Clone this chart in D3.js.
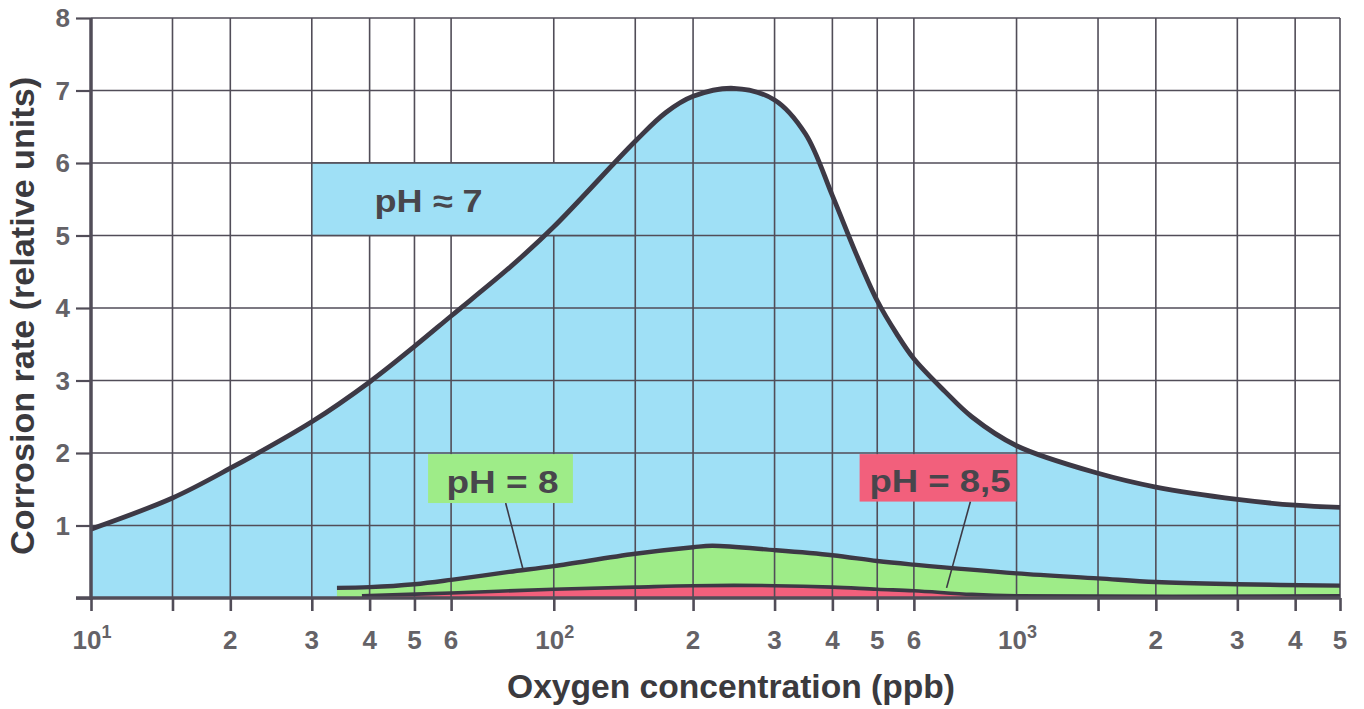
<!DOCTYPE html>
<html>
<head>
<meta charset="utf-8">
<script src="https://cdn.jsdelivr.net/npm/d3@7/dist/d3.min.js"></script>
<style>
  html, body { margin: 0; padding: 0; background: #ffffff; }
  svg { display: block; }
  text { font-family: "Liberation Sans", Arial, Helvetica, sans-serif; font-weight: bold; }
</style>
</head>
<body>
<svg id="chart" width="1364" height="709"></svg>
<script>
// ---------------- data ----------------
const xGridValues = [10, 15, 20, 30, 40, 50, 60, 100, 150, 200, 300, 400, 500, 600, 1000, 1500, 2000, 3000, 4000, 5000];
const xLabelValues = [10, 20, 30, 40, 50, 60, 100, 200, 300, 400, 500, 600, 1000, 2000, 3000, 4000, 5000];
const xLabelBase  = ["10", "2", "3", "4", "5", "6", "10", "2", "3", "4", "5", "6", "10", "2", "3", "4", "5"];
const xLabelSup   = ["1", "", "", "", "", "", "2", "", "", "", "", "", "3", "", "", "", ""];
const yTickValues = [0, 1, 2, 3, 4, 5, 6, 7, 8];
const yLabelValues = [1, 2, 3, 4, 5, 6, 7, 8];

// pH ~ 7 (blue)
const oxygenPH7 = [10, 15, 20, 30, 40, 50, 60, 80, 100, 150, 175, 200, 245, 300, 350, 400, 450, 500, 550, 600, 700, 800, 1000, 1500, 2000, 3000, 4000, 5000];
const ratePH7   = [0.95, 1.38, 1.79, 2.43, 2.98, 3.47, 3.89, 4.55, 5.12, 6.3, 6.7, 6.92, 7.03, 6.87, 6.4, 5.55, 4.75, 4.1, 3.65, 3.3, 2.85, 2.5, 2.1, 1.72, 1.53, 1.36, 1.28, 1.25];

// pH = 8 (green)
const oxygenPH8 = [34, 40, 50, 60, 80, 100, 150, 200, 220, 300, 400, 500, 600, 1000, 1500, 2000, 3000, 5000];
const ratePH8   = [0.14, 0.15, 0.19, 0.25, 0.36, 0.44, 0.61, 0.70, 0.72, 0.66, 0.59, 0.51, 0.46, 0.34, 0.27, 0.22, 0.19, 0.17];

// pH = 8,5 (red)
const oxygenPH85 = [38.5, 60, 100, 150, 200, 300, 400, 500, 600, 800, 1000, 5000];
const ratePH85   = [0.03, 0.07, 0.12, 0.15, 0.17, 0.17, 0.15, 0.12, 0.10, 0.05, 0.03, 0.03];

// labels
const seriesLabels = ["pH \u2248 7", "pH = 8", "pH = 8,5"];
const xTitle = "Oxygen concentration (ppb)";
const yTitle = "Corrosion rate (relative units)";

// ---------------- layout ----------------
const svg = d3.select("#chart");
const x = d3.scaleLog().domain([10, 5000]).range([91, 1340]);
const y = d3.scaleLinear().domain([0, 8]).range([598, 18]);

const C = {
  blue: "#9fe0f6",
  green: "#9eec88",
  red: "#f2607c",
  curve: "#3d3945",
  grid: "#514d58",
  tick: "#646267",
  title: "#3b3a3e",
  boxText: "#48464c"
};

const toPts = (xs, ys) => xs.map((v, i) => [v, ys[i]]);
const pts7 = toPts(oxygenPH7, ratePH7);
const pts8 = toPts(oxygenPH8, ratePH8);
const pts85 = toPts(oxygenPH85, ratePH85);

const curve = d3.curveCatmullRom.alpha(0.5);
const area = d3.area().x(d => x(d[0])).y0(y(0)).y1(d => y(d[1])).curve(curve);
const line = d3.line().x(d => x(d[0])).y(d => y(d[1])).curve(curve);

// fills
svg.append("path").attr("d", area(pts7)).attr("fill", C.blue);
svg.append("path").attr("d", area(pts8)).attr("fill", C.green);
svg.append("path").attr("d", area(pts85)).attr("fill", C.red);

// grid
const grid = svg.append("g").attr("stroke", C.grid).attr("stroke-width", 1.6);
grid.selectAll("line.v").data(xGridValues).join("line")
  .attr("x1", d => x(d)).attr("x2", d => x(d))
  .attr("y1", y(8)).attr("y2", y(0));
grid.selectAll("line.h").data(yTickValues.filter(v => v > 0)).join("line")
  .attr("x1", x(10)).attr("x2", x(5000))
  .attr("y1", d => y(d)).attr("y2", d => y(d));

// pH ~ 7 box (covers grid inside)
const box7 = { x0: 30, x1: 150, y0: 5, y1: 6 };
svg.append("rect")
  .attr("x", x(box7.x0)).attr("y", y(box7.y1))
  .attr("width", x(box7.x1) - x(box7.x0)).attr("height", y(box7.y0) - y(box7.y1))
  .attr("fill", C.blue).attr("stroke", C.grid).attr("stroke-width", 1.6);

// curves
svg.append("path").attr("d", line(pts7)).attr("fill", "none")
  .attr("stroke", C.curve).attr("stroke-width", 4.8).attr("stroke-linejoin", "round");
svg.append("path").attr("d", line(pts8)).attr("fill", "none")
  .attr("stroke", C.curve).attr("stroke-width", 4.4);
svg.append("path").attr("d", line(pts85)).attr("fill", "none")
  .attr("stroke", C.curve).attr("stroke-width", 3.6);

// axes
const yAxis = d3.axisLeft(y).tickValues(yTickValues).tickSize(15).tickFormat("");
const gy = svg.append("g").attr("transform", `translate(${x(10)},0)`).call(yAxis);
gy.select(".domain").remove();
gy.selectAll(".tick line").attr("stroke", C.grid).attr("stroke-width", 2.2);

const xAxis = d3.axisBottom(x).tickValues(xGridValues).tickSize(13).tickFormat("");
const gx = svg.append("g").attr("transform", `translate(0,${y(0)})`).call(xAxis);
gx.select(".domain").remove();
gx.selectAll(".tick line").attr("stroke", C.grid).attr("stroke-width", 2.6);

// axis lines (thick)
svg.append("line").attr("x1", x(10)).attr("x2", x(10)).attr("y1", y(8)).attr("y2", y(0) + 2)
  .attr("stroke", C.grid).attr("stroke-width", 3.5);
svg.append("line").attr("x1", x(10) - 15).attr("x2", x(5000)).attr("y1", y(0)).attr("y2", y(0))
  .attr("stroke", C.grid).attr("stroke-width", 3.5);

// y tick labels
svg.append("g").selectAll("text").data(yLabelValues).join("text")
  .attr("x", 70).attr("y", d => y(d) + 9)
  .attr("text-anchor", "end").attr("font-size", 26).attr("fill", C.tick)
  .text(d => d);

// x tick labels
const xl = svg.append("g").selectAll("text").data(xLabelValues).join("text")
  .attr("x", (d, i) => x(d) + (xLabelSup[i] ? 1 : 0)).attr("y", 649)
  .attr("text-anchor", "middle").attr("font-size", 26).attr("fill", C.tick);
xl.append("tspan").text((d, i) => xLabelBase[i]);
xl.append("tspan").attr("dy", -11).attr("font-size", 18).text((d, i) => xLabelSup[i]);

// axis titles
svg.append("text").attr("x", 731).attr("y", 698).attr("text-anchor", "middle")
  .attr("font-size", 33).attr("fill", C.title)
  .attr("textLength", 448).attr("lengthAdjust", "spacingAndGlyphs").text(xTitle);
svg.append("text").attr("transform", "translate(34,316) rotate(-90)").attr("text-anchor", "middle")
  .attr("font-size", 33).attr("fill", C.title)
  .attr("textLength", 478).attr("lengthAdjust", "spacingAndGlyphs").text(yTitle);

// pH ~ 7 label
svg.append("text").attr("x", x(41)).attr("y", y(5.32)).attr("font-size", 31).attr("fill", C.boxText)
  .attr("textLength", 108).attr("lengthAdjust", "spacingAndGlyphs").text(seriesLabels[0]);

// pH = 8 and pH = 8,5 boxes with leaders
const boxes = [
  { label: seriesLabels[1], fill: C.green, x0: 53.5, x1: 110, y0: 1.31, y1: 1.985, lead: [[78.7, 1.31], [85.7, 0.41]], tw: 112 },
  { label: seriesLabels[2], fill: C.red, x0: 458, x1: 1000, y0: 1.33, y1: 1.985, lead: [[795, 1.33], [706, 0.14]], tw: 141 }
];
boxes.forEach(b => {
  svg.append("line")
    .attr("x1", x(b.lead[0][0])).attr("y1", y(b.lead[0][1]))
    .attr("x2", x(b.lead[1][0])).attr("y2", y(b.lead[1][1]))
    .attr("stroke", C.curve).attr("stroke-width", 1.6);
  svg.append("rect")
    .attr("x", x(b.x0)).attr("y", y(b.y1))
    .attr("width", x(b.x1) - x(b.x0)).attr("height", y(b.y0) - y(b.y1))
    .attr("fill", b.fill);
  const cx = (x(b.x0) + x(b.x1)) / 2 + 2;
  const cy = (y(b.y0) + y(b.y1)) / 2;
  svg.append("text").attr("x", cx).attr("y", cy + 14).attr("text-anchor", "middle")
    .attr("font-size", 31).attr("fill", C.boxText)
    .attr("textLength", b.tw).attr("lengthAdjust", "spacingAndGlyphs").text(b.label);
});
</script>
</body>
</html>
